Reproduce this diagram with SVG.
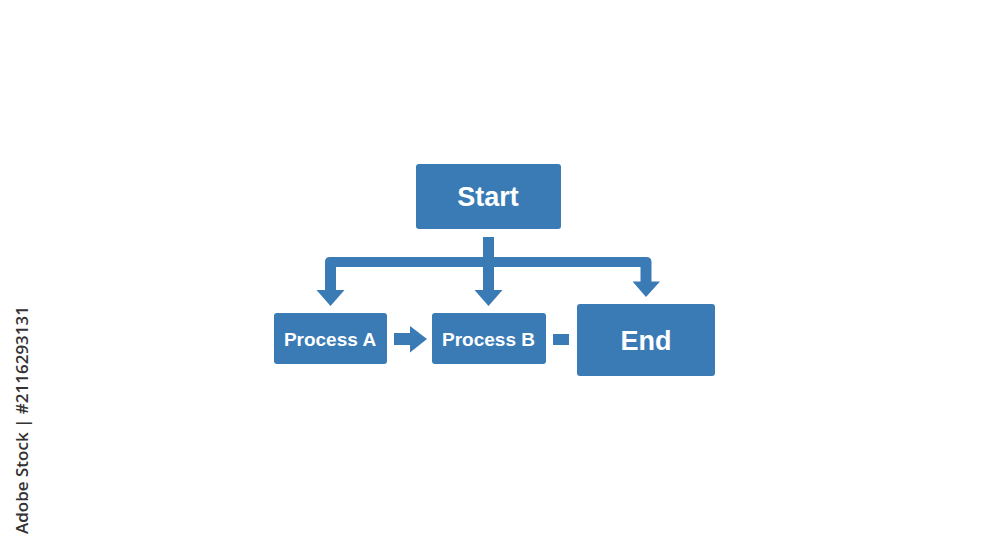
<svg xmlns="http://www.w3.org/2000/svg" width="1000" height="545" viewBox="0 0 1000 545">
<style>
.box{fill:#3a7bb5}
.lbl{fill:#ffffff;font-family:"Liberation Sans",Arial,sans-serif;font-weight:bold;text-anchor:middle}
.wm{fill:#333333;font-family:"Open Sans","DejaVu Sans",sans-serif;font-size:17px;font-weight:600}
</style>
<rect width="1000" height="545" fill="#ffffff"/>
<g id="connectors" fill="#3a7bb5" stroke="none">
  <rect x="483" y="237" width="11" height="24"/>
  <path d="M325,291 V262 Q325,257 330,257 H646 Q651.5,257 651.5,262 V282 H640.5 V267 H336 V291 Z"/>
  <polygon points="316.5,290 344.5,290 330.5,306"/>
  <rect x="483" y="257" width="11" height="34"/>
  <polygon points="474.5,290 502.5,290 488.5,306"/>
  <polygon points="632.5,281.5 660,281.5 646,297"/>
  <rect x="394" y="333" width="17" height="12"/>
  <polygon points="410,326 427,339 410,352.5"/>
  <rect x="553" y="334" width="16" height="11"/>
</g>
<g id="start">
  <rect class="box" x="416" y="164" width="145" height="65" rx="3"/>
  <text class="lbl" x="488" y="206" font-size="27">Start</text>
</g>
<g id="processA">
  <rect class="box" x="274" y="313" width="113" height="51" rx="3"/>
  <text class="lbl" x="330" y="345.5" font-size="19">Process A</text>
</g>
<g id="processB">
  <rect class="box" x="432" y="313" width="114" height="51" rx="3"/>
  <text class="lbl" x="488.5" y="345.5" font-size="19">Process B</text>
</g>
<g id="end">
  <rect class="box" x="577" y="304" width="138" height="72" rx="3"/>
  <text class="lbl" x="646" y="350" font-size="27">End</text>
</g>
<text class="wm" transform="translate(28,420) rotate(-90)" text-anchor="middle">Adobe Stock | #2116293131</text>
</svg>
